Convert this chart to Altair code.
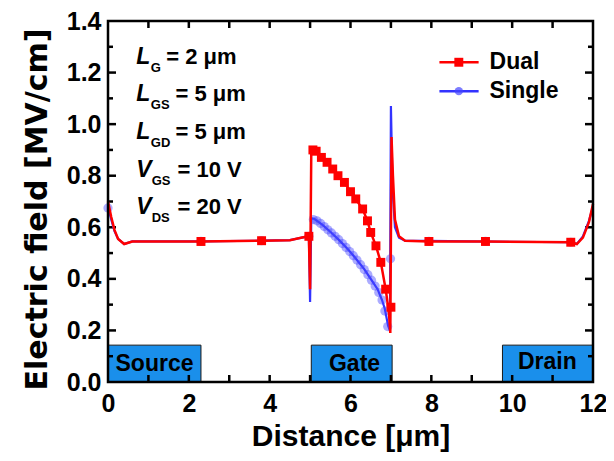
import altair as alt
import pandas as pd

# ---- data ----
dual_x = [0.0, 0.08, 0.16, 0.25, 0.4, 0.6, 2.3, 3.8, 4.5, 4.8, 4.97, 5.0, 5.03, 5.07, 5.15, 5.28, 5.42,
          5.56, 5.69, 5.85, 6.0, 6.13, 6.3, 6.42, 6.5, 6.63, 6.75, 6.87, 6.95, 6.985, 7.015, 7.05, 7.1,
          7.2, 7.35, 7.94, 9.34, 11.45, 11.6, 11.75, 11.9, 12.0]
dual_y = [0.70, 0.64, 0.59, 0.555, 0.535, 0.545, 0.545, 0.548, 0.55, 0.56, 0.565, 0.36, 0.90, 0.90,
          0.895, 0.871, 0.852, 0.826, 0.80, 0.774, 0.738, 0.71, 0.671, 0.625, 0.58, 0.528, 0.464, 0.36,
          0.27, 0.19, 0.95, 0.80, 0.63, 0.565, 0.548, 0.545, 0.545, 0.542, 0.535, 0.56, 0.62, 0.69]

dual_mx = [2.3, 3.8, 4.97, 5.07, 5.15, 5.28, 5.42, 5.56, 5.69, 5.85, 6.0, 6.13, 6.3, 6.42, 6.5, 6.63,
           6.75, 6.87, 7.0, 7.94, 9.34, 11.45]
dual_my = [0.545, 0.548, 0.565, 0.90, 0.895, 0.871, 0.852, 0.826, 0.80, 0.774, 0.738, 0.71, 0.671,
           0.625, 0.58, 0.528, 0.464, 0.36, 0.29, 0.545, 0.545, 0.542]

single_x = [0.0, 0.08, 0.16, 0.25, 0.4, 0.6, 2.3, 3.8, 4.5, 4.8, 4.97, 5.0, 5.03, 5.11, 5.3, 5.52, 5.7,
            5.93, 6.1, 6.34, 6.5, 6.67, 6.78, 6.85, 6.93, 6.975, 7.0, 7.04, 7.1, 7.2, 7.35, 9.0, 11.45,
            11.6, 11.75, 11.9, 12.0]
single_y = [0.68, 0.63, 0.585, 0.555, 0.535, 0.545, 0.545, 0.548, 0.55, 0.56, 0.565, 0.31, 0.635, 0.632,
            0.61, 0.58, 0.553, 0.516, 0.485, 0.438, 0.40, 0.36, 0.318, 0.283, 0.218, 0.20, 1.07, 0.75,
            0.60, 0.56, 0.548, 0.545, 0.542, 0.535, 0.565, 0.625, 0.68]

single_mx = [0.0, 2.3, 3.8, 4.97, 5.08, 5.17, 5.26, 5.35, 5.44, 5.53, 5.62, 5.71, 5.8, 5.89, 5.98, 6.07,
             6.16, 6.25, 6.34, 6.43, 6.52, 6.61, 6.7, 6.78, 6.85, 6.92, 6.99, 7.94, 9.34, 11.45]
single_my = [0.675, 0.545, 0.548, 0.565, 0.63, 0.625, 0.615, 0.603, 0.59, 0.578, 0.565, 0.552, 0.537,
             0.522, 0.506, 0.49, 0.473, 0.455, 0.436, 0.416, 0.395, 0.372, 0.347, 0.318, 0.275, 0.215,
             0.478, 0.545, 0.545, 0.542]

# region boxes
box_labels = ["Source", "Gate", "Drain"]
box_x0 = [0.0, 5.03, 9.76]
box_x1 = [2.3, 7.03, 12.0]
box_top = [0.143, 0.143, 0.143]
box_text_x = [1.15, 6.1, 10.87]
box_text_y = [0.068, 0.068, 0.078]

# annotation block
ann_main = ["L", "L", "L", "V", "V"]
ann_sub = ["G", "GS", "GD", "GS", "DS"]
ann_rest = ["= 2 μm", "= 5 μm", "= 5 μm", "= 10 V", "= 20 V"]
ann_y = [1.26, 1.115, 0.969, 0.824, 0.679]
ann_main_x = [0.7, 0.7, 0.7, 0.7, 0.7]
ann_sub_x = [1.06, 1.06, 1.06, 1.08, 1.08]
ann_rest_x = [1.44, 1.67, 1.67, 1.72, 1.72]

# legend
leg_labels = ["Dual", "Single"]
leg_y = [1.24, 1.128]
leg_x0 = [8.2, 8.2]
leg_x1 = [9.17, 9.17]
leg_mx = [8.68, 8.68]
leg_tx = [9.44, 9.44]

# ticks
x_ticks = [1, 2, 3, 4, 5, 6, 7, 8, 9, 10, 11]
y_major = [0.2, 0.4, 0.6, 0.8, 1.0, 1.2]
y_minor = [0.1, 0.3, 0.5, 0.7, 0.9, 1.1, 1.3]
x_label_vals = [0, 2, 4, 6, 8, 10, 12]
y_label_vals = [0.0, 0.2, 0.4, 0.6, 0.8, 1.0, 1.2, 1.4]

RED = "#FF0000"
BLUE = "#3333FF"
BOXC = "#1A8FEB"
FONT = "Liberation Sans"
W, H = 485, 361

xs = alt.Scale(domain=[0, 12], nice=False, zero=False)
ys = alt.Scale(domain=[0, 1.4], nice=False)

X_AXIS = alt.Axis(values=x_label_vals, format="d", ticks=False, domain=False, grid=False,
                  labelFontSize=25, labelFont=FONT, labelFontWeight="bold", labelColor="black",
                  labelPadding=9, titleFontSize=30, titleFont=FONT, titleFontWeight="bold",
                  titleColor="black", titlePadding=5, labelFlush=False)
Y_AXIS = alt.Axis(values=y_label_vals, format=".1f", ticks=False, domain=False, grid=False,
                  labelFontSize=25, labelFont=FONT, labelFontWeight="bold", labelColor="black",
                  labelPadding=7, titleFontSize=30, titleFont="DejaVu Sans", titleFontWeight="bold",
                  titleColor="black", titlePadding=14, titleY=188, labelFlush=False)
X_TITLE = "Distance [μm]"
Y_TITLE = "Electric field [MV/cm]"


def X(f="x"):
    return alt.X(f, type="quantitative", scale=xs, axis=X_AXIS, title=X_TITLE)


def Y(f="y"):
    return alt.Y(f, type="quantitative", scale=ys, axis=Y_AXIS, title=Y_TITLE)


dual_df = pd.DataFrame({"x": dual_x, "y": dual_y, "o": range(len(dual_x))})
dual_m = pd.DataFrame({"x": dual_mx, "y": dual_my})
single_df = pd.DataFrame({"x": single_x, "y": single_y, "o": range(len(single_x))})
single_m = pd.DataFrame({"x": single_mx, "y": single_my})

boxes_df = pd.DataFrame({"x0": box_x0, "x1": box_x1, "top": box_top, "bot": [0, 0, 0],
                         "lab": box_labels, "tx": box_text_x, "ty": box_text_y})
boxes = alt.Chart(boxes_df).mark_rect(fill=BOXC, stroke="#1a1a1a", strokeWidth=1).encode(
    x=X("x0"), x2="x1", y=Y("bot"), y2="top")
box_text = alt.Chart(boxes_df).mark_text(font=FONT, fontWeight="bold", fontSize=23, color="black",
                                         baseline="middle", align="center").encode(
    x=X("tx"), y=Y("ty"), text="lab:N")

single_line = alt.Chart(single_df).mark_line(color=BLUE, strokeWidth=2.2).encode(
    x=X(), y=Y(), order="o:Q")
single_pts = alt.Chart(single_m).mark_circle(color="#4444FF", opacity=0.45, size=85).encode(x=X(), y=Y())
dual_line = alt.Chart(dual_df).mark_line(color=RED, strokeWidth=2.5).encode(
    x=X(), y=Y(), order="o:Q")
dual_pts = alt.Chart(dual_m).mark_square(color=RED, opacity=1, size=80).encode(x=X(), y=Y())

ann_df = pd.DataFrame({"m": ann_main, "s": ann_sub, "r": ann_rest, "y": ann_y,
                       "mx": ann_main_x, "sx": ann_sub_x, "rx": ann_rest_x})
ann_m = alt.Chart(ann_df).mark_text(font=FONT, fontWeight="bold", fontStyle="italic", fontSize=23,
                                    align="left", baseline="middle", color="black").encode(
    x=X("mx"), y=Y("y"), text="m:N")
ann_s = alt.Chart(ann_df).mark_text(font=FONT, fontWeight="bold", fontSize=13, align="left",
                                    baseline="middle", color="black", dy=11).encode(
    x=X("sx"), y=Y("y"), text="s:N")
ann_r = alt.Chart(ann_df).mark_text(font=FONT, fontWeight="bold", fontSize=22, align="left",
                                    baseline="middle", color="black").encode(
    x=X("rx"), y=Y("y"), text="r:N")

leg_df = pd.DataFrame({"lab": leg_labels, "y": leg_y, "x0": leg_x0, "x1": leg_x1,
                       "mx": leg_mx, "tx": leg_tx})
leg_color = alt.Color("lab:N", scale=alt.Scale(domain=leg_labels, range=[RED, BLUE]), legend=None)
leg_lines = alt.Chart(leg_df).mark_rule(strokeWidth=2.5).encode(
    x=X("x0"), x2="x1", y=Y("y"), color=leg_color)
leg_sq = alt.Chart(leg_df[leg_df.lab == "Dual"]).mark_square(size=80, opacity=1, color=RED).encode(
    x=X("mx"), y=Y("y"))
leg_ci = alt.Chart(leg_df[leg_df.lab == "Single"]).mark_circle(size=70, opacity=0.7, color="#4444FF").encode(
    x=X("mx"), y=Y("y"))
leg_text = alt.Chart(leg_df).mark_text(font=FONT, fontWeight="bold", fontSize=23, align="left",
                                       baseline="middle", color="black").encode(
    x=X("tx"), y=Y("y"), text="lab:N")

# inward ticks on all four sides
xt = pd.DataFrame({"x": x_ticks})
ticks_bottom = alt.Chart(xt).mark_rule(color="black", strokeWidth=2.5).encode(
    x=X(), y=alt.value(H), y2=alt.value(H - 7))
ticks_top = alt.Chart(xt).mark_rule(color="black", strokeWidth=2.5).encode(
    x=X(), y=alt.value(0), y2=alt.value(7))
ymaj = pd.DataFrame({"y": y_major})
ymin = pd.DataFrame({"y": y_minor})
tl_maj = alt.Chart(ymaj).mark_rule(color="black", strokeWidth=2.5).encode(
    y=Y(), x=alt.value(0), x2=alt.value(8))
tr_maj = alt.Chart(ymaj).mark_rule(color="black", strokeWidth=2.5).encode(
    y=Y(), x=alt.value(W), x2=alt.value(W - 8))
tl_min = alt.Chart(ymin).mark_rule(color="black", strokeWidth=2.5).encode(
    y=Y(), x=alt.value(0), x2=alt.value(5))
tr_min = alt.Chart(ymin).mark_rule(color="black", strokeWidth=2.5).encode(
    y=Y(), x=alt.value(W), x2=alt.value(W - 5))

# plot frame
frame_df = pd.DataFrame({"x0": [0.0], "x1": [12.0], "y0": [0.0], "y1": [1.4]})
frame = alt.Chart(frame_df).mark_rect(fill=None, stroke="black", strokeWidth=2.5).encode(
    x=X("x0"), x2="x1", y=Y("y0"), y2="y1")

chart = alt.layer(
    boxes, box_text, ticks_bottom, ticks_top, tl_maj, tr_maj, tl_min, tr_min,
    single_line, single_pts, dual_line, dual_pts,
    ann_m, ann_s, ann_r, leg_lines, leg_sq, leg_ci, leg_text, frame,
).properties(
    width=W, height=H,
    autosize=alt.AutoSizeParams(type="none"),
    padding={"left": 100, "top": 13, "right": 13, "bottom": 71},
    background="white",
).configure_view(stroke=None)

chart.save("out.html", embed_options={"renderer": "svg", "actions": False})
